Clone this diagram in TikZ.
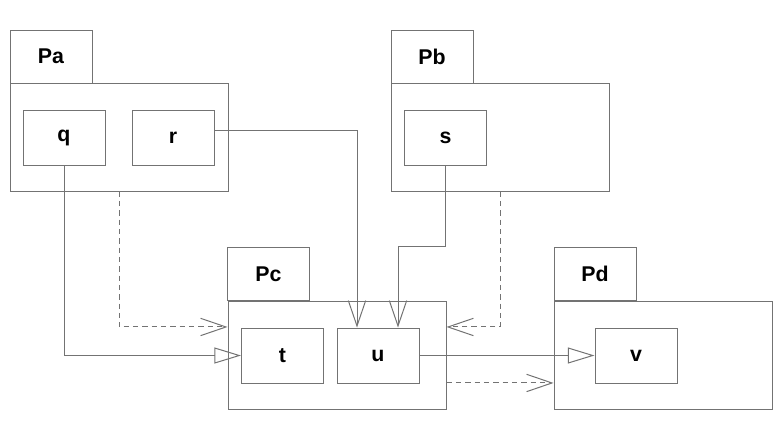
\documentclass[tikz,border=0pt]{standalone}
\usepackage{fontspec}
\setmainfont{Liberation Sans}
\usetikzlibrary{arrows.meta}

\tikzset{every picture/.style={line width=0.75pt}}
\tikzset{
  pkgtab/.style={draw=black!55, minimum width=61.5pt, minimum height=39.75pt, inner sep=0pt, font=\fontsize{16}{19}\selectfont\bfseries},
  pkgbody/.style={draw=black!55, minimum width=163.5pt, minimum height=81pt, inner sep=0pt},
  classbox/.style={draw=black!55, minimum width=61.5pt, minimum height=41.25pt, inner sep=0pt, font=\fontsize{16}{19}\selectfont\bfseries},
  association/.style={draw=black!55, -{Straight Barb[length=19pt,width=13pt]}},
  dependency/.style={draw=black!55, dash pattern={on 4pt off 3pt}, -{Straight Barb[length=19pt,width=13pt]}},
  generalization/.style={draw=black!55, -{Triangle[open,length=20pt,width=12pt]}}
}

\begin{document}
\begin{tikzpicture}[x=0.75pt,y=0.75pt,yscale=-1,xscale=1]
    \useasboundingbox (0,0) rectangle (780,436);

    %Package Pa
    \node [pkgtab] (patab) at (51,56.5) {Pa};
    \node [pkgbody] (pabody) at (119,137) {};
    \node [classbox] (q) at (64,137.5) {q};
    \node [classbox] (r) at (173,137.5) {r};

    %Package Pb
    \node [pkgtab] (pbtab) at (432,56.5) {Pb};
    \node [pkgbody] (pbbody) at (500,137) {};
    \node [classbox] (s) at (445.5,137.5) {s};

    %Package Pc
    \node [pkgtab] (pctab) at (268.5,274) {Pc};
    \node [pkgbody] (pcbody) at (337,355.5) {};
    \node [classbox] (t) at (282.5,355.5) {t};
    \node [classbox] (u) at (378,355.5) {u};

    %Package Pd
    \node [pkgtab] (pdtab) at (595,274) {Pd};
    \node [pkgbody] (pdbody) at (663,355.5) {};
    \node [classbox] (v) at (636,355.5) {v};

    %Class links
    \draw [generalization] (q.south) |- (t.west);
    \draw [association] ([yshift=-5.6pt]r.east) -| ([xshift=-15.75pt]u.north);
    \draw [association] (s.south) -- ++(0,81) -| ([xshift=15pt]u.north);
    \draw [generalization] (u.east) -- (v.west);

    %Package dependencies
    \draw [dependency] (pabody.south) |- ([yshift=-21.4pt]pcbody.west);
    \draw [dependency] (pbbody.south) |- ([yshift=-21.4pt]pcbody.east);
    \draw [dependency] ([yshift=20.6pt]pcbody.east) -- ([yshift=20.6pt]pdbody.west);

\end{tikzpicture}
\end{document}
